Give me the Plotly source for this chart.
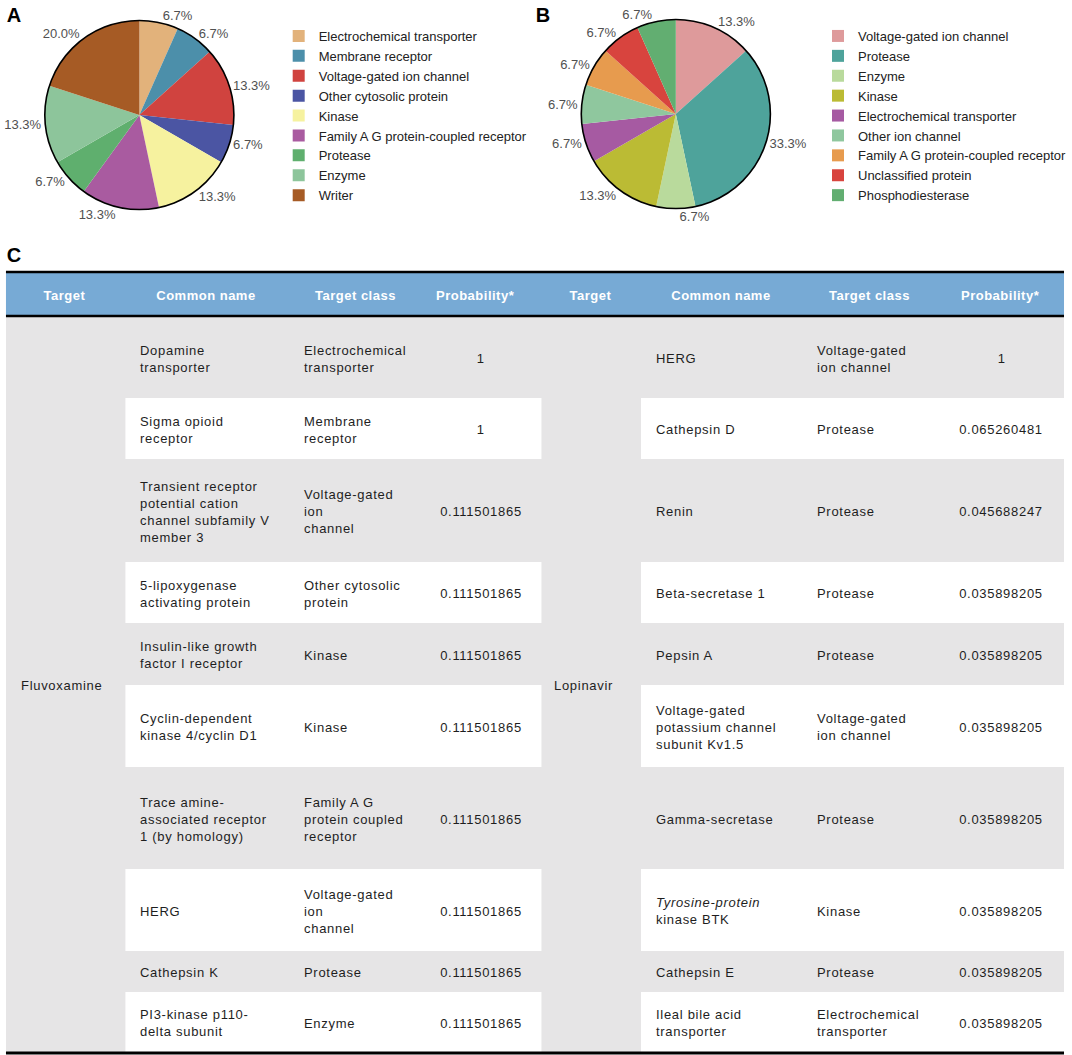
import plotly.graph_objects as go

# ---------------- data ----------------
pie_a_labels = ["Electrochemical transporter", "Membrane receptor", "Voltage-gated ion channel",
                "Other cytosolic protein", "Kinase", "Family A G protein-coupled receptor",
                "Protease", "Enzyme", "Writer"]
pie_a_counts = [1, 1, 2, 1, 2, 2, 1, 2, 3]

pie_b_labels = ["Voltage-gated ion channel", "Protease", "Enzyme", "Kinase",
                "Electrochemical transporter", "Other ion channel",
                "Family A G protein-coupled receptor", "Unclassified protein", "Phosphodiesterase"]
pie_b_counts = [2, 5, 1, 2, 1, 1, 1, 1, 1]

header_labels = ["Target", "Common name", "Target class", "Probability*",
                 "Target", "Common name", "Target class", "Probability*"]

left_target = "Fluvoxamine"
left_common = ["Dopamine<br>transporter", "Sigma opioid<br>receptor",
               "Transient receptor<br>potential cation<br>channel subfamily V<br>member 3",
               "5-lipoxygenase<br>activating protein", "Insulin-like growth<br>factor I receptor",
               "Cyclin-dependent<br>kinase 4/cyclin D1",
               "Trace amine-<br>associated receptor<br>1 (by homology)",
               "HERG", "Cathepsin K", "PI3-kinase p110-<br>delta subunit"]
left_class = ["Electrochemical<br>transporter", "Membrane<br>receptor", "Voltage-gated<br>ion<br>channel",
              "Other cytosolic<br>protein", "Kinase", "Kinase",
              "Family A G<br>protein coupled<br>receptor", "Voltage-gated<br>ion<br>channel",
              "Protease", "Enzyme"]
left_prob = [1, 1, 0.111501865, 0.111501865, 0.111501865, 0.111501865,
             0.111501865, 0.111501865, 0.111501865, 0.111501865]

right_target = "Lopinavir"
right_common = ["HERG", "Cathepsin D", "Renin", "Beta-secretase 1", "Pepsin A",
                "Voltage-gated<br>potassium channel<br>subunit Kv1.5", "Gamma-secretase",
                "<i>Tyrosine-protein</i><br>kinase BTK", "Cathepsin E",
                "Ileal bile acid<br>transporter"]
right_class = ["Voltage-gated<br>ion channel", "Protease", "Protease", "Protease", "Protease",
               "Voltage-gated<br>ion channel", "Protease", "Kinase", "Protease",
               "Electrochemical<br>transporter"]
right_prob = [1, 0.065260481, 0.045688247, 0.035898205, 0.035898205, 0.035898205,
              0.035898205, 0.035898205, 0.035898205, 0.035898205]

# ---------------- styles / layout constants ----------------
W, H = 1072, 1055
FONT = "Liberation Sans, Arial, Helvetica, sans-serif"
pie_a_colors = ["#E2B27B", "#4C8FAA", "#D0433F", "#4B55A3", "#F6F29F",
                "#A95BA0", "#5FAF6E", "#8DC59B", "#A65B25"]
pie_b_colors = ["#DE9A9B", "#4EA39B", "#B9DA9C", "#BBBB34", "#A65AA2",
                "#8FC79E", "#E79B4E", "#D8443E", "#62AE71"]
HEADER_BLUE = "#77AAD5"
ROW_GRAY = "#E6E5E6"
TEXT_COL = "#1e1e1e"

# table geometry (pixel units on a hidden axis)
TBL_X0, TBL_X1 = 6, 1069
HDR_Y0, HDR_Y1 = 272, 316
BODY_Y0 = 317
row_px = [81, 61, 103, 61, 62, 82, 102, 82, 41, 60]
header_cx = [65, 207, 357, 478, 593, 724, 874, 1005]
left_block = (126, 544)
right_block = (644, 1069)
left_cols = dict(target=19, common=139, cls=303, prob=483)
right_cols = dict(target=555, common=657, cls=819, prob=1006)


def dom_x(a, b):
    return [a / W, b / W]


def dom_y(top, bottom):
    return [1 - bottom / H, 1 - top / H]


fig = go.Figure()

# ---------------- pies ----------------
pies = [
    (pie_a_labels, pie_a_counts, pie_a_colors, (45, 235), (20, 210), "legend", "pieA"),
    (pie_b_labels, pie_b_counts, pie_b_colors, (584, 774), (19, 209), "legend2", "pieB"),
]
for labels, counts, colors, dx, dy, lg, grp in pies:
    fig.add_trace(go.Pie(
        labels=labels, values=counts, sort=False, direction="clockwise", rotation=0,
        marker=dict(colors=colors, line=dict(width=0)),
        textposition="outside", texttemplate="%{percent:.1%}",
        outsidetextfont=dict(family=FONT, size=13, color="#505050"),
        domain=dict(x=dom_x(*dx), y=dom_y(*dy)),
        legend=lg, legendgroup=grp, hoverinfo="label+percent", showlegend=True,
    ))
    # black outline around the pie
    fig.add_trace(go.Pie(
        labels=["outline"], values=[1], sort=False,
        marker=dict(colors=["rgba(0,0,0,0)"], line=dict(color="black", width=1.6)),
        textinfo="none", hoverinfo="skip", showlegend=False,
        domain=dict(x=dom_x(*dx), y=dom_y(*dy)), legend=lg, legendgroup=grp + "o",
    ))

# hidden cartesian axis carrying the table
fig.add_trace(go.Scatter(x=[0, W], y=[0, H], mode="markers", marker=dict(opacity=0),
                         hoverinfo="skip", showlegend=False))

shapes = []
annotations = []

# body gray background and header band
shapes.append(dict(type="rect", xref="x", yref="y", x0=TBL_X0, x1=TBL_X1,
                   y0=BODY_Y0, y1=BODY_Y0 + sum(row_px), fillcolor=ROW_GRAY, line=dict(width=0),
                   layer="below"))
shapes.append(dict(type="rect", xref="x", yref="y", x0=TBL_X0, x1=TBL_X1,
                   y0=HDR_Y0, y1=HDR_Y1, fillcolor=HEADER_BLUE, line=dict(width=0), layer="below"))

# rows
y = BODY_Y0
row_bounds = []
for i, h in enumerate(row_px):
    row_bounds.append((y, y + h))
    if i % 2 == 1:
        for bx0, bx1 in (left_block, right_block):
            shapes.append(dict(type="rect", xref="x", yref="y", x0=bx0, x1=bx1, y0=y, y1=y + h,
                               fillcolor="white", line=dict(width=0), layer="below"))
    y += h
BODY_Y1 = y

# rules
for yy, wd in ((HDR_Y0, 2.5), (HDR_Y1, 2.5), (BODY_Y1 + 1, 3)):
    shapes.append(dict(type="line", xref="x", yref="y", x0=TBL_X0, x1=TBL_X1, y0=yy, y1=yy,
                       line=dict(color="black", width=wd)))

# header text
for cx, txt in zip(header_cx, header_labels):
    annotations.append(dict(x=cx, y=(HDR_Y0 + HDR_Y1) / 2 + 1, xref="x", yref="y", text=txt,
                            showarrow=False, xanchor="center", yanchor="middle",
                            font=dict(family=FONT, size=13, color="white", weight="bold")))


def cell(x, y, txt, anchor="left"):
    annotations.append(dict(x=x, y=y, xref="x", yref="y", text=txt, showarrow=False,
                            xanchor=anchor, yanchor="middle", align=anchor,
                            font=dict(family=FONT, size=13, color=TEXT_COL)))


mid_body = (BODY_Y0 + BODY_Y1) / 2 + 1
cell(left_cols["target"], mid_body, left_target)
cell(right_cols["target"], mid_body, right_target)
for (y0, y1), lc, lcl, lp, rc, rcl, rp in zip(row_bounds, left_common, left_class, left_prob,
                                               right_common, right_class, right_prob):
    yc = (y0 + y1) / 2 + 1
    cell(left_cols["common"], yc, lc)
    cell(left_cols["cls"], yc, lcl)
    cell(left_cols["prob"], yc, str(lp), "center")
    cell(right_cols["common"], yc, rc)
    cell(right_cols["cls"], yc, rcl)
    cell(right_cols["prob"], yc, str(rp), "center")

# panel letters
for txt, px, py in (("A", 5, 15), ("B", 537, 15), ("C", 5, 255)):
    annotations.append(dict(x=px / W, y=1 - py / H, xref="paper", yref="paper", text=txt,
                            showarrow=False, xanchor="left", yanchor="middle",
                            font=dict(family=FONT, size=20, color="black", weight="bold")))

legend_style = dict(xanchor="left", yanchor="top", bgcolor="rgba(0,0,0,0)",
                    font=dict(family=FONT, size=13, color="#222222"), itemclick=False,
                    itemdoubleclick=False, traceorder="normal", tracegroupgap=0)
fig.update_layout(
    width=W, height=H, margin=dict(l=0, r=0, t=0, b=0, pad=0),
    paper_bgcolor="white", plot_bgcolor="white",
    xaxis=dict(range=[0, W], visible=False, fixedrange=True, domain=[0, 1]),
    yaxis=dict(range=[H, 0], visible=False, fixedrange=True, domain=[0, 1]),
    legend=dict(x=280 / W, y=1 - 21 / H, **legend_style),
    legend2=dict(x=822 / W, y=1 - 21 / H, **legend_style),
    shapes=shapes, annotations=annotations, showlegend=True,
)

# page style: no body margin / overflow; table text tracked slightly wider like the original
page_css = """
var s = document.createElement('style');
s.textContent = 'html,body{margin:0 !important;padding:0 !important;overflow:hidden !important;} ' +
  'text.annotation-text{letter-spacing:0.7px;} ' +
  'text.annotation-text[style*="255, 255, 255"]{letter-spacing:0.5px;}';
document.head.appendChild(s);
"""
fig.write_html("out.html", post_script=page_css, config={"displayModeBar": False})
